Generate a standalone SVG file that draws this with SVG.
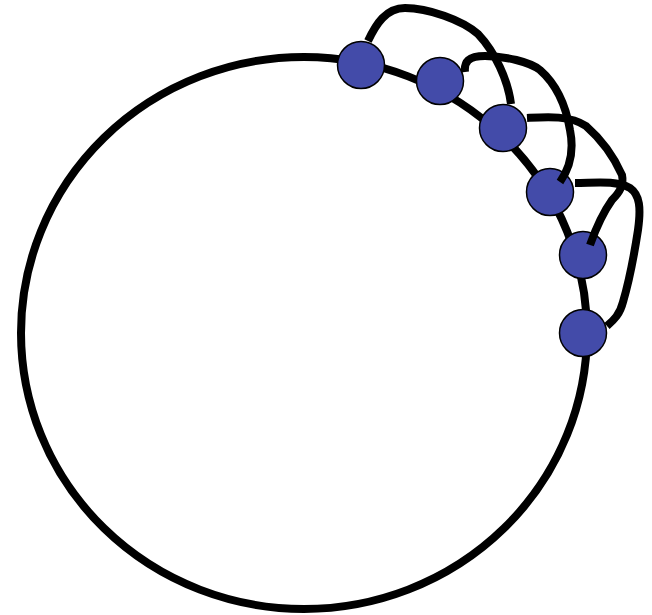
<svg xmlns="http://www.w3.org/2000/svg" width="652" height="615" viewBox="0 0 652 615">
<style>
.ring{fill:none;stroke:#000;stroke-width:8}
.node{fill:#434BA9;stroke:#000;stroke-width:1.5}
.arc{fill:none;stroke:#000;stroke-width:8;stroke-linecap:butt}
</style>
<rect width="652" height="615" fill="#fff"/>
<g id="ring"><ellipse class="ring" cx="304" cy="333" rx="283" ry="276"/></g>
<g id="n1"><circle class="node" cx="361" cy="65" r="23.5"/></g>
<g id="n2"><circle class="node" cx="440" cy="81" r="23.5"/></g>
<g id="n3"><circle class="node" cx="503" cy="128" r="23.5"/></g>
<g id="n4"><circle class="node" cx="550" cy="192" r="23.5"/></g>
<g id="n5"><circle class="node" cx="583" cy="255" r="23.5"/></g>
<g id="n6"><circle class="node" cx="583" cy="333" r="23.5"/></g>
<g id="connectors">
<path class="arc" d="M368,41 C376,24 386,8 405,8 C428,8 462,20 478,34 C495,52 508,80 511,104"/>
<path class="arc" d="M465,72 C464,62 468,56 485,56 C505,56 530,62 540,70 C556,84 566,106 570,130 C574,150 570,168 560,182"/>
<path class="arc" d="M527,118 C545,117 570,115 586,126 C602,140 614,157 622,175 C624,185 620,192 612,200 C602,214 596,228 590,245"/>
<path class="arc" d="M575,183 C595,183 615,180 630,188 C640,195 641,208 638,230 C634,256 628,285 623,302 C620,314 614,320 607,326"/>
</g>
</svg>
